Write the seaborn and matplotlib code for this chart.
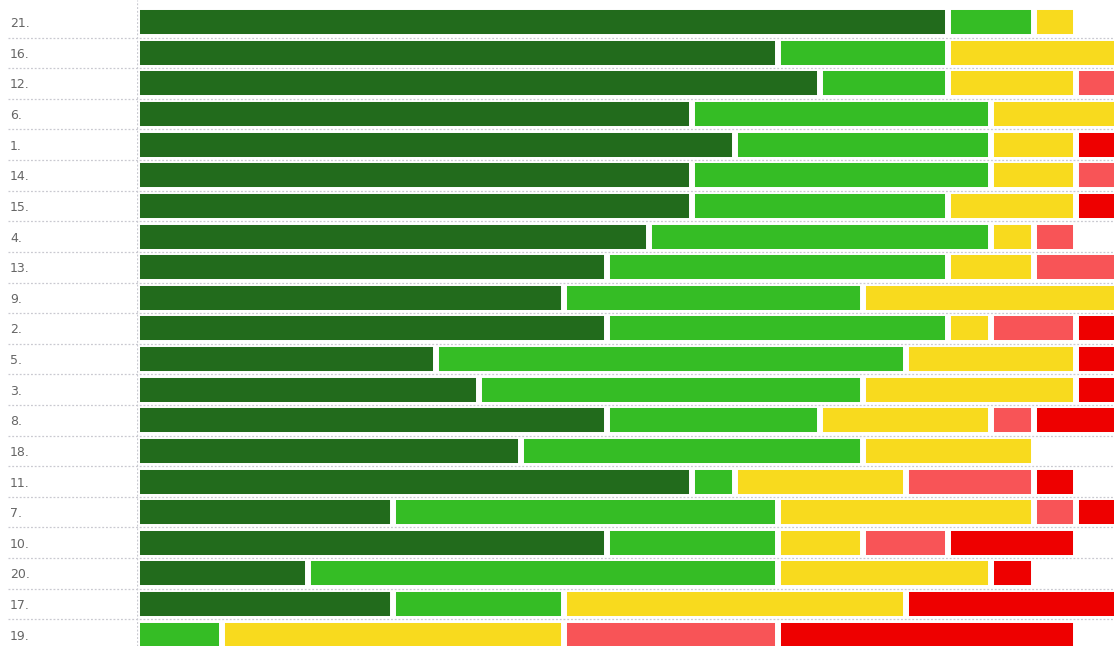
import numpy as np
import pandas as pd
import matplotlib
matplotlib.use("Agg")
import matplotlib.pyplot as plt
import seaborn as sns

labels = ["21.", "16.", "12.", "6.", "1.", "14.", "15.", "4.", "13.", "9.", "2.",
          "5.", "3.", "8.", "18.", "11.", "7.", "10.", "20.", "17.", "19."]
dark_green = [19, 15, 16, 13, 14, 13, 13, 12, 11, 10, 11, 7, 8, 11, 9, 13, 6, 11, 4, 6, 0]
green      = [2, 4, 3, 7, 6, 7, 6, 8, 8, 7, 8, 11, 9, 5, 8, 1, 9, 4, 11, 4, 2]
yellow     = [1, 5, 3, 4, 2, 2, 3, 1, 2, 7, 1, 4, 5, 4, 4, 4, 6, 2, 5, 8, 8]
pink       = [0, 0, 2, 0, 0, 2, 0, 1, 3, 0, 2, 0, 0, 1, 0, 3, 1, 2, 0, 0, 5]
red        = [0, 0, 0, 0, 2, 0, 2, 0, 0, 0, 2, 2, 2, 3, 0, 1, 2, 3, 1, 6, 7]

series = [dark_green, green, yellow, pink, red]
colors = ["#226b1c", "#35bd25", "#f8da1e", "#f85457", "#ee0000"]

df = pd.DataFrame({"label": labels})
cum = np.zeros(len(labels))
for i, s in enumerate(series):
    cum = cum + np.array(s)
    df[f"c{i}"] = cum

sns.set_theme(style="white")
plt.rcParams["font.family"] = ["DejaVu Sans"]

W, H = 1114, 646
fig = plt.figure(figsize=(W / 100, H / 100), dpi=100)
ax = fig.add_axes([137 / W, 0, 977 / W, 1])

for i in reversed(range(len(series))):
    sns.barplot(data=df, y="label", x=f"c{i}", order=labels, orient="h",
                color=colors[i], saturation=1, errorbar=None, width=0.98,
                edgecolor="white", linewidth=4.3, ax=ax)

ax.set_xlim(0, 977 / 42.7)
ax.set_ylim(20.37, -0.725)
ax.set_xlabel("")
ax.set_ylabel("")
ax.set_xticks([])
for sp in ax.spines.values():
    sp.set_visible(False)

ax.set_yticks(range(len(labels)))
ax.set_yticklabels(labels, ha="left", color="#666666", fontsize=9)
ax.tick_params(axis="y", length=0, pad=127 * 0.72)

for k in range(len(labels) - 1):
    ax.axhline(k + 0.5, xmin=(8 - 137) / 977, xmax=1, clip_on=False,
               color="#c9c9d0", ls=(0, (1.5, 1.5)), lw=0.9, zorder=5)
ax.axvline(0, color="#c9c9d0", ls=(0, (1.5, 1.5)), lw=0.9, zorder=5)

fig.savefig("out.png", dpi=100, facecolor="white")
